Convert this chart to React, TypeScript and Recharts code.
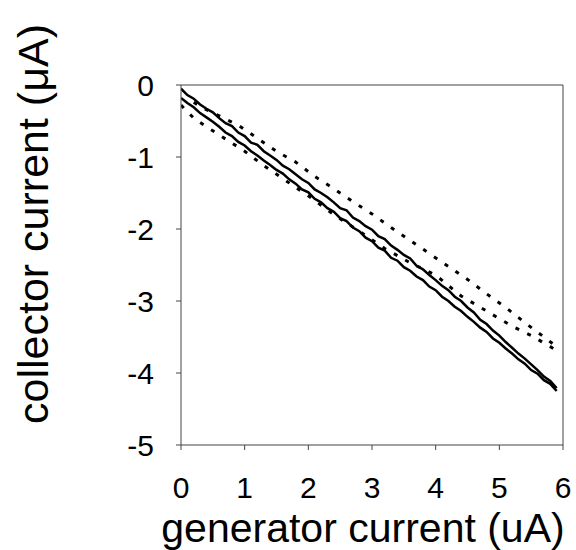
// Collector vs generator current, two solid sweeps and two dotted sweeps.
import * as React from 'react';
import { Label, Line, LineChart, ReferenceLine, XAxis, YAxis } from 'recharts';

const FONT = '"Liberation Sans", Arial, sans-serif';
const AXIS_COLOR = '#444';

const solidX = [
  0.0, 0.1, 0.2, 0.3, 0.4, 0.5, 0.6, 0.7, 0.8, 0.9,
  1.0, 1.1, 1.2, 1.3, 1.4, 1.5, 1.6, 1.7, 1.8, 1.9,
  2.0, 2.1, 2.2, 2.3, 2.4, 2.5, 2.6, 2.7, 2.8, 2.9,
  3.0, 3.1, 3.2, 3.3, 3.4, 3.5, 3.6, 3.7, 3.8, 3.9,
  4.0, 4.1, 4.2, 4.3, 4.4, 4.5, 4.6, 4.7, 4.8, 4.9,
  5.0, 5.1, 5.2, 5.3, 5.4, 5.5, 5.6, 5.7, 5.8, 5.9,
];

// upper solid sweep
const solidUpper = [
  -0.05, -0.14, -0.19, -0.27, -0.33, -0.38, -0.46, -0.53, -0.57, -0.66,
  -0.71, -0.80, -0.83, -0.92, -0.98, -1.04, -1.12, -1.17, -1.24, -1.31,
  -1.36, -1.45, -1.50, -1.56, -1.63, -1.71, -1.74, -1.84, -1.89, -1.96,
  -2.01, -2.10, -2.14, -2.23, -2.29, -2.36, -2.41, -2.51, -2.56, -2.64,
  -2.71, -2.79, -2.85, -2.94, -3.00, -3.09, -3.16, -3.26, -3.32, -3.41,
  -3.48, -3.57, -3.65, -3.73, -3.80, -3.88, -3.96, -4.05, -4.11, -4.21,
];

// lower solid sweep
const solidLower = [
  -0.18, -0.25, -0.31, -0.39, -0.45, -0.51, -0.58, -0.66, -0.71, -0.79,
  -0.84, -0.92, -0.98, -1.05, -1.11, -1.18, -1.23, -1.31, -1.37, -1.45,
  -1.49, -1.58, -1.63, -1.71, -1.76, -1.85, -1.89, -1.98, -2.03, -2.12,
  -2.17, -2.26, -2.30, -2.40, -2.44, -2.53, -2.58, -2.66, -2.71, -2.80,
  -2.85, -2.94, -3.00, -3.08, -3.14, -3.22, -3.29, -3.37, -3.43, -3.52,
  -3.58, -3.66, -3.73, -3.81, -3.87, -3.96, -4.01, -4.10, -4.15, -4.25,
];

const dottedUpperX = [0.2, 0.3, 0.6, 0.9, 1.2, 1.5, 1.8, 2.1, 2.4, 2.7, 3.0, 3.3, 3.6, 3.9, 4.2, 4.5, 4.8, 5.1, 5.4, 5.7, 5.85];
const dottedUpperY = [-0.24, -0.3, -0.43, -0.56, -0.74, -0.92, -1.07, -1.27, -1.44, -1.62, -1.79, -1.98, -2.16, -2.34, -2.52, -2.7, -2.9, -3.09, -3.3, -3.5, -3.6];

const dottedLowerX = [0, 0.2, 0.4, 0.7, 1.0, 1.3, 1.6, 2.0, 2.4, 2.8, 3.2, 3.6, 4.0, 4.4, 4.8, 5.2, 5.5, 5.85];
const dottedLowerY = [-0.28, -0.46, -0.58, -0.75, -0.92, -1.12, -1.3, -1.54, -1.8, -2.03, -2.27, -2.47, -2.64, -2.93, -3.14, -3.35, -3.48, -3.66];

const xTicks = [0, 1, 2, 3, 4, 5, 6];
const yTicks = [0, -1, -2, -3, -4, -5];

const zip = (xs: number[], ys: number[]) => ys.map((y, i) => ({ x: xs[i], y }));

export default function App() {
  const tickStyle = { fontSize: 30, fill: '#000', fontFamily: FONT };
  return (
    <div style={{ position: 'absolute', left: 0, top: 0 }}>
      <LineChart width={576} height={550} margin={{ top: 85, right: 13, bottom: 0, left: 0 }}>
        <XAxis
          type='number'
          dataKey='x'
          domain={[0, 6]}
          ticks={xTicks}
          height={105}
          stroke={AXIS_COLOR}
          tickSize={5}
          tickMargin={27}
          tick={tickStyle}
          allowDataOverflow
        >
          <Label
            content={({ viewBox }: any) => (
              <text
                x={viewBox.x + viewBox.width / 2 - 9}
                y={viewBox.y + 97}
                textAnchor='middle'
                fontSize={41}
                fontFamily={FONT}
                fill='#000'
              >
                generator current (uA)
              </text>
            )}
          />
        </XAxis>
        <YAxis
          type='number'
          dataKey='y'
          domain={[-5, 0]}
          ticks={yTicks}
          width={181}
          stroke={AXIS_COLOR}
          tickSize={5}
          tickMargin={22}
          tick={tickStyle}
          allowDataOverflow
        >
          <Label
            content={() => (
              <text
                x={48}
                y={224}
                transform='rotate(-90, 48, 224)'
                textAnchor='middle'
                fontSize={43}
                fontFamily={FONT}
                fill='#000'
              >
                collector current (μA)
              </text>
            )}
          />
        </YAxis>
        <ReferenceLine y={0} stroke={AXIS_COLOR} />
        <ReferenceLine x={6} stroke={AXIS_COLOR} />
        <Line
          data={zip(dottedUpperX, dottedUpperY)}
          dataKey='y'
          stroke='#000'
          strokeWidth={3}
          strokeDasharray='4 9'
          dot={false}
          type='linear'
          isAnimationActive={false}
        />
        <Line
          data={zip(dottedLowerX, dottedLowerY)}
          dataKey='y'
          stroke='#000'
          strokeWidth={3}
          strokeDasharray='4 9'
          dot={false}
          type='linear'
          isAnimationActive={false}
        />
        <Line
          data={zip(solidX, solidUpper)}
          dataKey='y'
          stroke='#000'
          strokeWidth={2.5}
          dot={false}
          type='linear'
          isAnimationActive={false}
        />
        <Line
          data={zip(solidX, solidLower)}
          dataKey='y'
          stroke='#000'
          strokeWidth={2.5}
          dot={false}
          type='linear'
          isAnimationActive={false}
        />
      </LineChart>
    </div>
  );
}
